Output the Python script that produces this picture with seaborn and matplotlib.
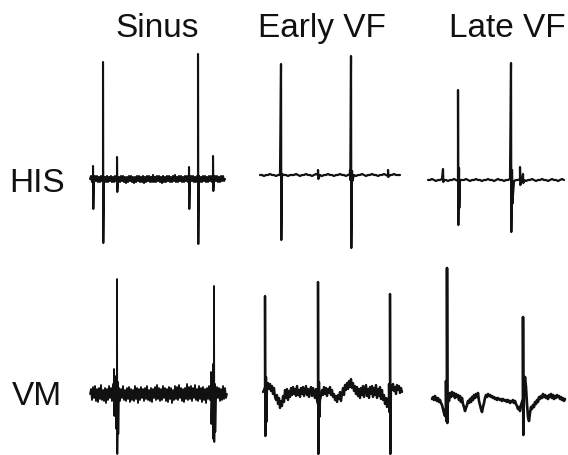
import numpy as np
import pandas as pd
import matplotlib
matplotlib.use("Agg")
import matplotlib.pyplot as plt
import seaborn as sns

# ---------------- data (amplitudes in arbitrary units, positive = up) ----------------
col_titles = ["Sinus", "Early VF", "Late VF"]
row_labels = ["HIS", "VM"]

# HIS, Sinus: baseline samples (1 unit step) and spikes (time, peak, trough)
his_sinus_base = [0, 3, -3, 2, -3, 3, -2, 3, -3, 2,
                  -3, 3, -2, 3, -3, 2, -3, 3, -3, 2,
                  -2, 3, -3, 2, -3, 3, -2, 3, -3, 2,
                  -3, 3, -2, 3, -3, 2, -4, 2, -3, 3,
                  -2, 3, -3, 2, -4, 2, -3, 3, -2, 3,
                  -3, 2, -3, 3, -4, 2, -3, 3, -2, 3,
                  -3, 2, -3, 4, -3, 2, -3, 3, -2, 3,
                  -3, 2, -4, 3, -3, 2, -3, 3, -2, 3,
                  -3, 2, -3, 3, -2, 4, -3, 2, -3, 3,
                  -2, 3, -3, 2, -3, 3, -2, 3, -3, 2,
                  -3, 3, -2, 3, -3, 2, -3, 3, -2, 3,
                  -3, 2, -3, 3, -2, 3, -3, 2, -3, 3,
                  -2, 3, -3, 2, -3, 3, -2, 3, -3, 2,
                  -3, 3, -2, 3, -2, 0]
his_sinus_spikes = [(3, 13, -30), (13, 117, -64), (27, 22, -13),
                    (99, 12, -30), (108, 125, -65), (123, 23, -12)]

# HIS, Early VF (2 unit step)
his_early_base = [0, 0, -1, 0, 0, 1, 0, 0, -1, 0,
                  0, 1, 0, 0, -1, 0, 0, 0, 1, 0,
                  -1, 0, 0, 1, 0, 0, -1, 0, 1, 0,
                  0, -1, 0, 0, 1, 0, 0, -1, 0, 0,
                  1, 0, 0, -1, 0, 1, 0, 0, -1, 0,
                  0, 1, 0, -1, 0, 0, 1, 0, 0, -1,
                  0, 0, 1, 0, -1, 0, 0, 1, 0, 0,
                  0]
his_early_spikes = [(21, 111, -65), (58, 5, -4), (90, 5, -5),
                    (91, 119, -73), (92, 4, -6), (128, 5, -2)]

# HIS, Late VF (2 unit step)
his_late_base = [0, 0, 1, 0, -1, 0, 0, 1, 0, 0,
                 -1, 0, 0, 1, 0, -1, 0, 0, 0, 1,
                 0, -1, 0, 0, 1, 0, 0, -1, 0, 0,
                 1, 0, 0, -1, 0, 1, 0, 0, -1, 0,
                 0, 1, 0, -1, 0, 0, 1, 0, 0, -1,
                 0, 0, 1, 0, -1, 0, 0, 1, 0, 0,
                 -1, 0, 1, 0, 0, -1, 0, 1, 0]
his_late_spikes = [(15, 11, -2), (30, 90, -45), (31, 12, -28),
                   (83, 117, -52), (84, 10, -24), (92, 13, -5), (95, 6, -3)]

# VM, Sinus (1 unit step)
vm_sinus_base = [0, 5, -6, 7, -4, 8, -7, 5, -8, 6,
                 -5, 9, -6, 4, -7, 6, -9, 5, -6, 8,
                 -4, 6, -7, 10, -5, 7, -6, 5, -8, 6,
                 -7, 5, -4, 8, -6, 4, -7, 6, -5, 7,
                 -8, 5, -6, 4, -7, 8, -5, 6, -9, 5,
                 -6, 7, -4, 5, -7, 6, -5, 8, -6, 4,
                 -7, 6, -8, 5, -4, 7, -6, 9, -5, 6,
                 -7, 5, -6, 8, -4, 6, -7, 5, -8, 7,
                 -5, 6, -9, 4, -6, 8, -5, 7, -6, 9,
                 -4, 6, -7, 5, -8, 6, -5, 10, -6, 7,
                 -5, 8, -7, 6, -4, 9, -6, 5, -7, 8,
                 -5, 6, -8, 7, -6, 5, -9, 6, -5, 8,
                 -6, 7, -5, 6, -8, 5, -6, 7, -4, 6,
                 -7, 5, -6, 8, -5, 6, -4, 0]
vm_sinus_spikes = [(24, 25, -22), (26, 18, -35), (27, 115, -60), (28, 12, -40),
                   (121, 22, -30), (123, 30, -45), (124, 108, -48), (125, 10, -38)]

# VM, Early VF (1 unit step)
vm_early_base = [0, 2, 5, 8, 6, 9, 3, 8, 1, 6,
                 -2, 4, -5, -8, -3, -12, -6, -16, -9, -14,
                 -4, -10, 2, -6, 3, -8, 1, -5, 4, -3,
                 5, -2, 3, -4, 6, -3, 2, -5, 4, -2,
                 5, -4, 1, 6, -3, 3, -5, 2, 5, -4,
                 4, -2, -6, 3, -8, -12, -16, -8, -4, 2,
                 -3, 5, -2, 4, -4, 3, -1, 5, -3, 2,
                 -5, -2, -8, -4, -10, -3, -7, 0, -9, -2,
                 4, -3, 7, 2, 9, 3, 11, 5, 13, 4,
                 9, 1, 6, -2, 5, -4, 3, -6, 4, -3,
                 6, -5, 2, 7, -4, 3, -6, 5, -2, 6,
                 -5, 4, -3, 7, -6, 3, -4, 5, -7, 2,
                 -8, -3, -12, -6, -15, -9, -4, 3, 6, 2,
                 8, 1, 5, -2, 7, 2, 6, -1, 4, 0]
vm_early_spikes = [(2, 96, -44), (3, 15, -30), (55, 110, -62), (56, 10, -25),
                   (126, 8, -20), (127, 98, -62)]

# VM, Late VF (1 unit step)
vm_late_base = [0, 2, -1, 3, 0, -2, 1, -3, -1, -4,
                -6, -10, -14, -17, -8, -5, 3, -2, 6, 2,
                7, 3, 6, 1, 5, 2, 4, -1, 3, -3,
                1, -5, -8, -12, -9, -6, -2, -4, 0, -3,
                2, -1, 4, 1, 5, 2, 6, -2, -6, -10,
                -13, -8, -4, 1, 4, 2, 5, 3, 4, 2,
                3, 1, 2, 0, 1, -1, 1, 0, -1, 0,
                -2, 0, -1, -2, -1, -3, -1, -2, -4, -2,
                -3, -1, -4, -2, -5, -7, -10, -8, -12, -6,
                -3, 0, 10, 22, 12, -5, -18, -22, -14, -8,
                -10, -6, -8, -3, -5, -1, -3, 2, 0, 3,
                1, 5, 2, 4, 1, 3, 0, 4, 2, 5,
                1, 4, 0, 3, 1, 4, 2, 3, 0, 2,
                -1, 1, -2, 0]
vm_late_spikes = [(14, 18, -22), (15, 131, -24), (91, 82, -36)]

# ---------------- layout (pixels of a 568x456 canvas) ----------------
W, H = 568, 456
panels = [
    # base, spikes, step, left x, width, baseline y, row top, row bottom, line width
    (his_sinus_base, his_sinus_spikes, 1, 90, 135, 180, 45, 262, 1.5),
    (his_early_base, his_early_spikes, 2, 260, 140, 176, 45, 262, 1.6),
    (his_late_base, his_late_spikes, 2, 428, 136, 181, 45, 262, 1.6),
    (vm_sinus_base, vm_sinus_spikes, 1, 90, 137, 395, 262, 456, 1.3),
    (vm_early_base, vm_early_spikes, 1, 263, 139, 393, 262, 456, 1.7),
    (vm_late_base, vm_late_spikes, 1, 432, 133, 400, 262, 456, 1.9),
]


def build(base, step, spikes):
    pts = [(i * step, v) for i, v in enumerate(base)]
    for ts, top, bot in spikes:
        pts.append((ts + 0.01, top))
        pts.append((ts + 0.3, bot))
    pts.sort(key=lambda p: p[0])
    return pd.DataFrame(pts, columns=["t", "v"])


sns.set_theme(style="white")
plt.rcParams["font.family"] = ["Liberation Sans", "DejaVu Sans"]

fig = plt.figure(figsize=(W / 100, H / 100), dpi=100)
fig.patch.set_facecolor("white")

for base, spikes, step, x0, wpx, yb, ytop, ybot, lw in panels:
    ax = fig.add_axes([x0 / W, 1 - ybot / H, wpx / W, (ybot - ytop) / H])
    df = build(base, step, spikes)
    sns.lineplot(data=df, x="t", y="v", sort=False, estimator=None,
                 color="#111111", linewidth=lw, ax=ax)
    for ln in ax.lines:
        ln.set_clip_on(False)
    ax.set_xlim(0, wpx)
    ax.set_ylim(yb - ybot, yb - ytop)
    ax.set_axis_off()

title_x = [157, 322, 507]
for label, xc in zip(col_titles, title_x):
    fig.text(xc / W, 1 - 37 / H, label, ha="center", va="baseline",
             fontsize=24, color="#111111")

row_y = [192, 405]
row_x = [9, 12]
for label, xl, yl in zip(row_labels, row_x, row_y):
    fig.text(xl / W, 1 - yl / H, label, ha="left", va="baseline",
             fontsize=24, color="#111111")

fig.savefig("out.png", dpi=100, facecolor="white")
